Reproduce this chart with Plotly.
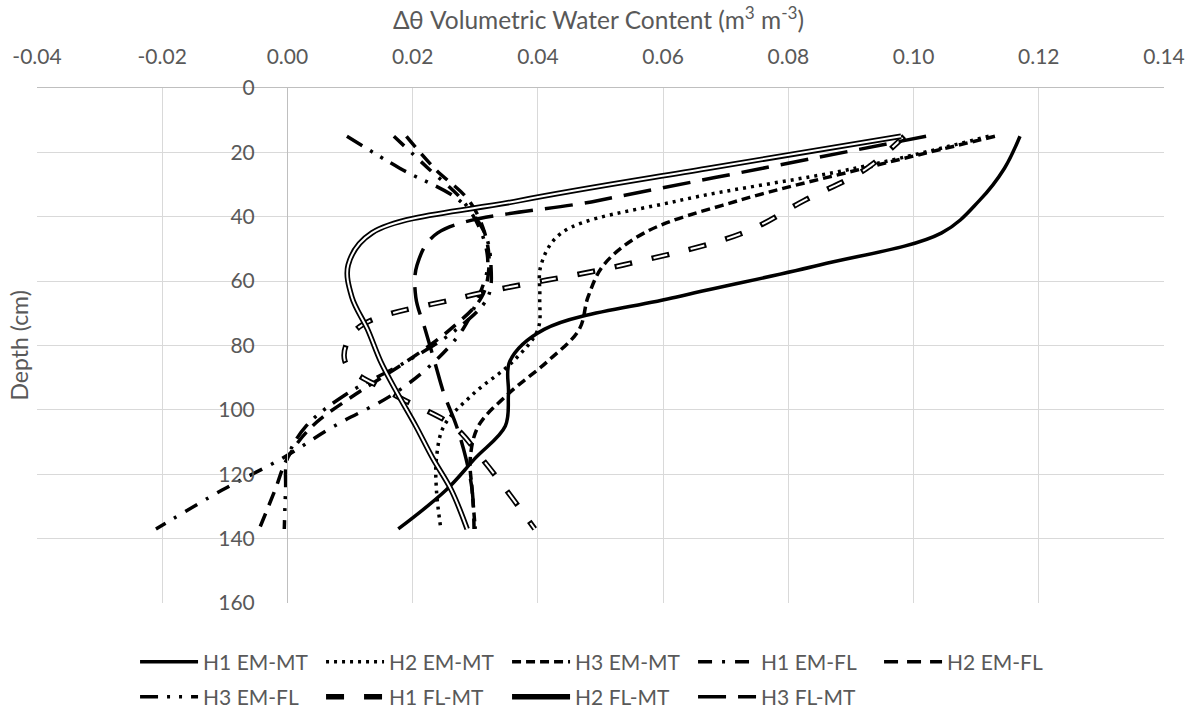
import plotly.graph_objects as go

# depth of each reading (cm)
depth = [15, 25, 35, 45, 55, 65, 75, 85, 95, 105, 115, 125, 137]

# change in volumetric water content (m3 m-3)
h1_em_mt = [0.117, 0.1145, 0.1105, 0.1045, 0.085, 0.062, 0.041, 0.0355, 0.0353, 0.0348, 0.030, 0.0253, 0.0177]
h2_em_mt = [0.112, 0.0905, 0.0625, 0.0438, 0.0405, 0.0403, 0.0400, 0.036, 0.0297, 0.025, 0.0238, 0.0238, 0.0245]
h3_em_mt = [0.113, 0.092, 0.072, 0.057, 0.0505, 0.048, 0.0466, 0.0415, 0.0353, 0.0305, 0.0292, 0.0295, 0.030]
h1_em_fl = [0.017, 0.0225, 0.028, 0.031, 0.032, 0.0305, 0.028, 0.0235, 0.017, 0.0075, -0.0008, -0.0105, -0.021]
h2_em_fl = [0.019, 0.0235, 0.029, 0.0315, 0.0322, 0.031, 0.026, 0.019, 0.011, 0.004, 0.0, -0.002, -0.0045]
h3_em_fl = [0.0095, 0.018, 0.0275, 0.0315, 0.0325, 0.032, 0.027, 0.019, 0.0095, 0.003, 0.0, -0.0003, -0.0005]
h1_fl_mt = [0.0985, 0.0925, 0.0825, 0.0728, 0.0536, 0.028, 0.011, 0.0092, 0.0168, 0.0265, 0.031, 0.035, 0.0395]
h2_fl_mt = [0.098, 0.067, 0.037, 0.0135, 0.0097, 0.0103, 0.0128, 0.0149, 0.0176, 0.0205, 0.0232, 0.0262, 0.0287]
h3_fl_mt = [0.102, 0.0757, 0.0495, 0.024, 0.0207, 0.0205, 0.022, 0.0235, 0.025, 0.027, 0.0285, 0.0295, 0.0298]

x_ticks = [-0.04, -0.02, 0.0, 0.02, 0.04, 0.06, 0.08, 0.10, 0.12, 0.14]
x_tick_labels = ['-0.04', '-0.02', '0.00', '0.02', '0.04', '0.06', '0.08', '0.10', '0.12', '0.14']
y_ticks = [0, 20, 40, 60, 80, 100, 120, 140, 160]

FONT = 'Lato'
GREY = '#595959'

fig = go.Figure()


def add_line(name, xs, dash, width=3.5, legend='legend'):
    fig.add_trace(go.Scatter(x=xs, y=depth, name=name, mode='lines',
                             line=dict(color='black', width=width, dash=dash, shape='spline'),
                             legend=legend))


def add_double(name, xs, dash_out, dash_in, legend):
    # black outer stroke + white core gives Excel's double line look
    fig.add_trace(go.Scatter(x=xs, y=depth, name=name, mode='lines',
                             line=dict(color='black', width=5.5, dash=dash_out, shape='spline'),
                             legend=legend))
    fig.add_trace(go.Scatter(x=xs, y=depth, name=name, mode='lines', showlegend=False,
                             line=dict(color='white', width=2, dash=dash_in, shape='spline'),
                             legend=legend))


add_line('H1 EM-MT', h1_em_mt, 'solid')
add_line('H2 EM-MT', h2_em_mt, '3px,5px')
add_line('H3 EM-MT', h3_em_mt, '9px,5px')
add_line('H1 EM-FL', h1_em_fl, '14px,10px,3px,10px')
add_line('H2 EM-FL', h2_em_fl, '14px,9px')
add_line('H3 EM-FL', h3_em_fl, '18px,9px,3px,9px,3px,9px', legend='legend2')
add_double('H1 FL-MT', h1_fl_mt, '18px,20px', '0px,2px,14px,22px', 'legend2')
add_double('H2 FL-MT', h2_fl_mt, 'solid', 'solid', 'legend2')
add_line('H3 FL-MT', h3_fl_mt, '28px,12px', legend='legend2')

legend_style = dict(orientation='h', xanchor='left', yanchor='middle', x=0.087,
                    font=dict(family=FONT, size=21, color=GREY), itemwidth=58,
                    entrywidth=113, entrywidthmode='pixels', bgcolor='rgba(0,0,0,0)')

fig.update_layout(
    width=1196, height=717,
    margin=dict(l=37, r=32, t=88, b=114, autoexpand=False),
    plot_bgcolor='white', paper_bgcolor='white',
    font=dict(family=FONT, size=20, color=GREY),
    showlegend=True,
    legend=dict(legend_style, y=-0.1146),
    legend2=dict(legend_style, y=-0.1825),
    xaxis=dict(side='top', range=[-0.04, 0.14], tickvals=x_ticks, ticktext=x_tick_labels,
               showgrid=True, gridcolor='#d9d9d9', gridwidth=1,
               showline=True, linecolor='#bfbfbf', linewidth=1, automargin=False,
               zeroline=False, ticks='', ticklabelstandoff=15,
               tickfont=dict(family=FONT, size=21, color=GREY)),
    yaxis=dict(range=[160, 0], tickvals=y_ticks, anchor='free', position=(287 - 37) / 1127,
               showgrid=True, gridcolor='#d9d9d9', gridwidth=1,
               showline=True, linecolor='#bfbfbf', linewidth=1, automargin=False,
               zeroline=False, ticks='', ticklabelstandoff=28,
               tickfont=dict(family=FONT, size=21, color=GREY)),
    annotations=[
        dict(text='Δθ Volumetric Water Content (m<sup>3</sup> m<sup>-3</sup>)',
             xref='paper', yref='paper', x=(598 - 37) / 1127, y=1, yshift=70, showarrow=False,
             xanchor='center', yanchor='middle', font=dict(family=FONT, size=24.5, color=GREY)),
        dict(text='Depth (cm)', xref='paper', yref='paper', x=0, xshift=-19, y=0.5,
             textangle=-90, showarrow=False, xanchor='center', yanchor='middle',
             font=dict(family=FONT, size=23, color=GREY)),
    ],
)

# drop the browser's default 8px body margin so the figure sits at the page corner
fig.write_html('out.html', config={'displayModeBar': False},
               post_script="document.body.style.margin='0px';")
